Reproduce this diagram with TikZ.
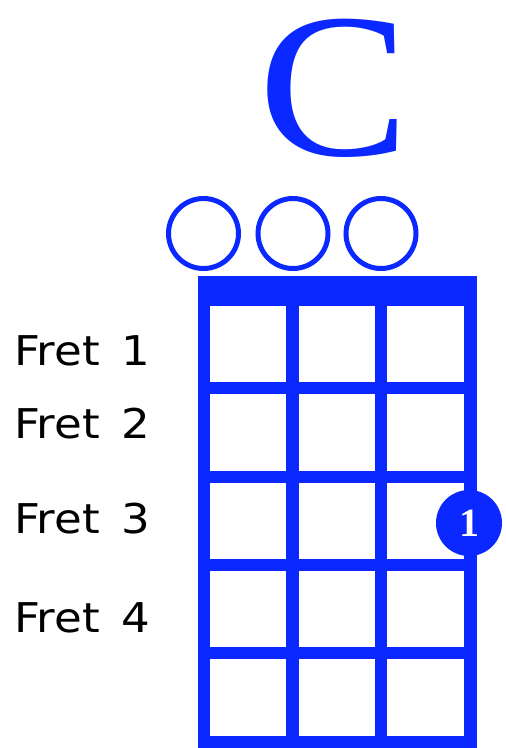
\documentclass[tikz,border=0pt]{standalone}
\usepackage{fontspec}
\setmainfont{Liberation Serif}
\newfontfamily\labelfont[FakeStretch=1.1,WordSpace=1.5]{DejaVu Sans}
\definecolor{chordblue}{RGB}{10,40,255}
\begin{document}
\begin{tikzpicture}[x=1pt,y=-1pt,
  gridline/.style={draw=chordblue,line width=12.5pt},
  opencircle/.style={circle,draw=chordblue,line width=5pt,minimum size=70pt,inner sep=0pt},
  finger/.style={circle,fill=chordblue,minimum size=66pt,inner sep=0pt,text=white,font=\bfseries\fontsize{40}{40}\selectfont},
  fretlabel/.style={anchor=base west,inner sep=0pt,font=\labelfont\fontsize{41}{41}\selectfont},
  chordname/.style={anchor=base,inner sep=0pt,text height=148pt,text depth=4pt,text=chordblue,font=\fontsize{206}{206}\selectfont}]
\useasboundingbox (0,0) rectangle (506,748);
\node[chordname,xscale=1.1] (name) at (334,155) {C};
\node[opencircle] (o1) at (203.5,233.5) {};
\node[opencircle] (o2) at (293,233.5) {};
\node[opencircle] (o3) at (381,233.5) {};
\fill[chordblue] (197.75,276) rectangle (476.75,306);
\foreach \x in {204,292.5,381,470.5} \draw[gridline] (\x,290) -- (\x,748);
\foreach \y in {388,477,565,653,742} \draw[gridline] (197.75,\y) -- (476.75,\y);
\node[finger] (f1) at (469,523) {1};
\node[fretlabel] (l1) at (14,365) {Fret 1};
\node[fretlabel] (l2) at (14,438) {Fret 2};
\node[fretlabel] (l3) at (14,533) {Fret 3};
\node[fretlabel] (l4) at (14,632) {Fret 4};
\end{tikzpicture}
\end{document}
